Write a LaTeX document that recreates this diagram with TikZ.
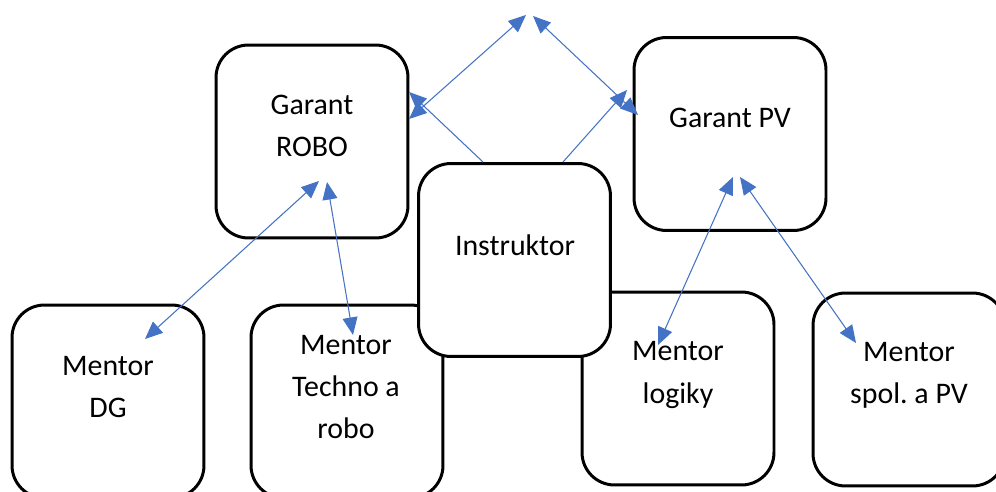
\documentclass[tikz,border=0pt]{standalone}
\usepackage{fontspec}
\setmainfont{Carlito}
\usetikzlibrary{arrows.meta}
\definecolor{linkblue}{HTML}{4472C4}

\begin{document}
\begin{tikzpicture}[x=0.02cm,y=-0.02cm,
  box/.style={draw,line width=1.7pt,fill=white,rounded corners=0.65cm,
    minimum width=3.84cm,minimum height=3.86cm},
  txt/.style={align=center,font=\fontsize{17}{24}\selectfont},
  link/.style={draw=linkblue,line width=0.6pt,
    {Triangle[length=10pt,width=8.5pt]}-{Triangle[length=10pt,width=8.5pt]}},
  tolink/.style={draw=linkblue,line width=0.6pt,-{Triangle[length=10pt,width=8.5pt]}}]
 \useasboundingbox (0,0) rectangle (996,492);
 % boxes
 \node[box] (robo) at (312,141.5) {};
 \node[box] (pv) at (730,134) {};
 \node[box] (dg) at (108,401.5) {};
 \node[box] (techno) at (347,401.5) {};
 \node[box] (logiky) at (678,388.5) {};
 \node[box] (spol) at (909,389.5) {};
 \node[box] (instr) at (514.5,260) {};
 % texts
 \node[txt] (roboT) at (312,126) {Garant\\ROBO};
 \node[txt] (pvT) at (730,118) {Garant PV};
 \node[txt] (instrT) at (515,245) {Instruktor};
 \node[txt] (dgT) at (108,387) {Mentor\\DG};
 \node[txt] (technoT) at (346,387) {Mentor\\Techno a\\robo};
 \node[txt] (logikyT) at (678,375) {Mentor\\logiky};
 \node[txt] (spolT) at (909,375) {Mentor\\spol.\ a PV};
 % arrow ends
 \coordinate (apexL) at (526,15);
 \coordinate (apexR) at (533,16);
 \coordinate (roboA) at (409,119);
 \coordinate (roboI) at (409,92);
 \coordinate (pvA) at (638,115);
 \coordinate (pvI) at (627,90);
 \coordinate (roboL) at (319,181);
 \coordinate (roboR) at (327,182);
 \coordinate (pvL) at (733,177);
 \coordinate (pvR) at (740,177);
 \coordinate (dgA) at (145,339);
 \coordinate (technoA) at (353,335);
 \coordinate (logikyA) at (658,345);
 \coordinate (spolA) at (856,343);
 % links
 \draw[link] (roboA) -- (apexL);
 \draw[link] (apexR) -- (pvA);
 \draw[tolink] ([xshift=-0.63cm]instr.north) -- (roboI);
 \draw[tolink] ([xshift=0.97cm]instr.north) -- (pvI);
 \draw[link] (roboL) -- (dgA);
 \draw[link] (roboR) -- (technoA);
 \draw[link] (pvL) -- (logikyA);
 \draw[link] (pvR) -- (spolA);
\end{tikzpicture}
\end{document}
